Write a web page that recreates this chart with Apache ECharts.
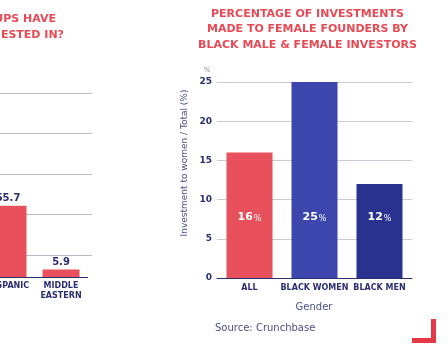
<!DOCTYPE html>
<html>
<head>
<meta charset="utf-8">
<script src="https://cdn.jsdelivr.net/npm/echarts@6/dist/echarts.min.js"></script>
<style>
  html, body { margin: 0; padding: 0; background: #fff; }
  #main { width: 448px; height: 354px; }
</style>
</head>
<body>
<div id="main"></div>
<script>
// left chart (cut off in the picture)
var leftCategories = ['HISPANIC', 'MIDDLE\nEASTERN'];
var leftValues = [55.7, 5.9];

// right chart
var genderCategories = ['ALL', 'BLACK WOMEN', 'BLACK MEN'];
var genderValues = [16, 25, 12];
var barColors = ['#e8505c', '#3c46ad', '#29338f'];

var navy = '#2b2f72';
var red = '#e84a55';

(function(){
    var myChart = echarts.init(document.getElementById('main'));
    var font = 'DejaVu Sans';

    var option = {
        animation: false,
        textStyle: { fontFamily: font },
        grid: [
            // right chart
            { left: 217, right: 36, top: 82, bottom: 76, outerBoundsMode: 'none', containLabel: false },
            // left chart bars
            { left: -18.5, width: 106, top: 93, bottom: 77, outerBoundsMode: 'none', containLabel: false },
            // left chart grid lines
            { left: -18.5, width: 110.5, top: 93, bottom: 99, outerBoundsMode: 'none', containLabel: false }
        ],
        xAxis: [
            {
                gridIndex: 0,
                type: 'category',
                data: genderCategories,
                axisLine: { lineStyle: { color: navy, width: 1 } },
                axisTick: { show: false },
                axisLabel: { color: navy, fontSize: 8, fontWeight: 'bold', margin: 6, interval: 0, hideOverlap: false }
            },
            {
                gridIndex: 1,
                type: 'category',
                data: leftCategories,
                axisLine: { lineStyle: { color: navy, width: 1 } },
                axisTick: { show: false },
                axisLabel: { color: navy, fontSize: 8, fontWeight: 'bold', margin: 4, lineHeight: 10, interval: 0, hideOverlap: false }
            },
            { gridIndex: 2, type: 'value', show: false }
        ],
        yAxis: [
            {
                gridIndex: 0,
                type: 'value',
                min: 0,
                max: 25,
                interval: 5,
                axisLine: { show: false },
                axisTick: { show: false },
                axisLabel: { color: navy, fontSize: 9, fontWeight: 'bold', margin: 5 },
                splitLine: { lineStyle: { color: '#c9c9d4', width: 1 } }
            },
            {
                gridIndex: 1,
                type: 'value',
                min: 0,
                max: 144,
                show: false,
                splitLine: { show: false }
            },
            {
                gridIndex: 2,
                type: 'value',
                min: 0,
                max: 4,
                interval: 1,
                axisLine: { show: false },
                axisTick: { show: false },
                axisLabel: { show: false },
                splitLine: { lineStyle: { color: '#b9b9cc', width: 1 } }
            }
        ],
        series: [
            {
                type: 'bar',
                xAxisIndex: 0,
                yAxisIndex: 0,
                barWidth: 46,
                data: genderValues.map(function(v, i){
                    return { value: v, itemStyle: { color: barColors[i] } };
                }),
                label: {
                    show: true,
                    position: 'insideBottom',
                    distance: 55,
                    formatter: function(p){ return '{a|' + p.value + '}{b|%}'; },
                    rich: {
                        a: { color: '#fff', fontSize: 11, fontWeight: 'bold', fontFamily: font },
                        b: { color: '#fff', fontSize: 8, fontFamily: font, padding: [2, 0, 0, 1] }
                    }
                }
            },
            {
                type: 'bar',
                xAxisIndex: 1,
                yAxisIndex: 1,
                barWidth: 37,
                itemStyle: { color: '#e8505c' },
                data: leftValues,
                label: {
                    show: true,
                    position: 'top',
                    distance: 2,
                    color: navy,
                    fontSize: 10,
                    fontWeight: 'bold'
                }
            }
        ],
        graphic: [
            {
                type: 'text',
                x: 307.5, y: 6,
                style: {
                    text: 'PERCENTAGE OF INVESTMENTS\nMADE TO FEMALE FOUNDERS BY\nBLACK MALE & FEMALE INVESTORS',
                    fill: red,
                    font: 'bold 11px "DejaVu Sans"',
                    lineHeight: 15.5,
                    align: 'center',
                    verticalAlign: 'top'
                }
            },
            {
                type: 'text',
                x: 56, y: 14,
                style: {
                    text: 'UPS HAVE',
                    fill: red,
                    font: 'bold 11px "DejaVu Sans"',
                    align: 'right',
                    verticalAlign: 'top'
                }
            },
            {
                type: 'text',
                x: 64, y: 30,
                style: {
                    text: 'ESTED IN?',
                    fill: red,
                    font: 'bold 11px "DejaVu Sans"',
                    align: 'right',
                    verticalAlign: 'top'
                }
            },
            {
                type: 'text',
                x: 207, y: 70,
                style: { text: '%', fill: '#8a8ca8', font: '7px "DejaVu Sans"', align: 'center', verticalAlign: 'middle' }
            },
            {
                type: 'text',
                x: 185, y: 163,
                rotation: Math.PI / 2,
                style: {
                    text: 'Investment to women / Total (%)',
                    fill: '#4a4f86',
                    font: '9px "DejaVu Sans"',
                    align: 'center',
                    verticalAlign: 'middle'
                }
            },
            {
                type: 'text',
                x: 314, y: 307,
                style: { text: 'Gender', fill: '#4a4f86', font: '10px "DejaVu Sans"', align: 'center', verticalAlign: 'middle' }
            },
            {
                type: 'text',
                x: 215, y: 328,
                style: { text: 'Source: Crunchbase', fill: '#4a4f86', font: '10px "DejaVu Sans"', align: 'left', verticalAlign: 'middle' }
            },
            {
                type: 'polygon',
                shape: { points: [[431, 319], [436, 319], [436, 343], [412, 343], [412, 338], [431, 338]] },
                style: { fill: '#e43a48' }
            }
        ]
    };
    myChart.setOption(option);
    window.addEventListener('resize', function(){ myChart.resize(); });
})();
</script>
</body>
</html>
